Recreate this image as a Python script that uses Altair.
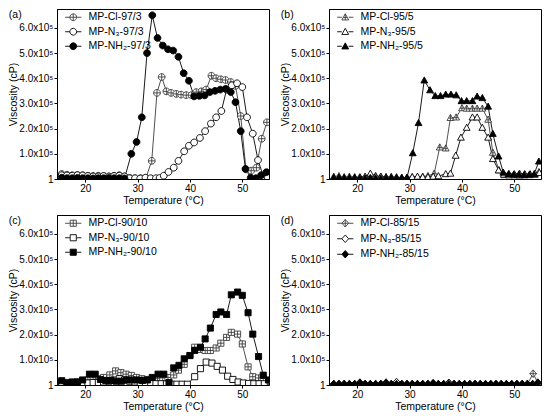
import altair as alt
import pandas as pd

FONT = "Liberation Sans, Arial, sans-serif"

# ---------------- Panel (a) 97/3 ----------------
A_NAMES = ["MP-Cl-97/3", "MP-N\u2083-97/3", "MP-NH\u2082-97/3"]
A_T_CL = [15.5, 16.5, 17.5, 18.5, 19.5, 20.5, 21.5, 22.5, 23.5, 24.5, 25.5, 26.5, 27.5, 28.5, 29.5,
          30.6, 31.6, 32.7, 33.7, 34.6, 35.5, 36.4, 37.4, 38.3, 39.3, 40.3, 41.2, 42.2, 43.1, 44.1,
          45.0, 45.9, 46.8, 47.8, 48.7, 49.7, 50.7, 51.7, 52.7, 53.7, 54.7]
A_V_CL = [0.2, 0.17, 0.15, 0.16, 0.15, 0.13, 0.12, 0.13, 0.12, 0.1, 0.13, 0.15, 0.1, 0.04, 0.03,
          0.03, 0.05, 0.72, 3.42, 4.05, 3.48, 3.42, 3.38, 3.35, 3.33, 3.33, 3.45, 3.48, 3.55, 4.1,
          4.0, 3.96, 3.93, 3.85, 3.7, 2.5, 0.38, 0.33, 0.45, 1.6, 2.25]
A_T_N3 = [15.5, 16.5, 17.5, 18.5, 19.5, 20.5, 21.5, 22.5, 23.5, 24.5, 25.5, 26.5, 27.5, 28.5, 29.5,
          30.5, 31.5, 32.5, 33.5, 34.2, 35.0, 35.9, 36.9, 37.8, 38.9, 39.8, 40.8, 41.9, 42.9, 44.0,
          45.0, 46.0, 47.0, 48.0, 49.0, 50.0, 50.9, 52.0, 53.0, 54.0, 54.9]
A_V_N3 = [0.15, 0.14, 0.13, 0.15, 0.14, 0.12, 0.1, 0.1, 0.12, 0.1, 0.12, 0.13, 0.1, 0.03, 0.03,
          0.02, 0.05, 0.03, 0.03, 0.04, 0.13, 0.28, 0.45, 0.72, 1.1, 1.32, 1.45, 1.63, 1.9, 2.2,
          2.45, 2.7, 3.55, 3.72, 3.8, 3.65, 2.45, 1.8, 0.75, 0.12, 0.05]
A_T_NH = [15.5, 16.5, 17.5, 18.5, 19.5, 20.5, 21.5, 22.5, 23.5, 24.5, 25.5, 26.5, 27.5,
          28.8, 29.8, 30.8, 31.8, 32.8, 33.8, 34.8, 35.8, 36.8, 37.8, 38.8, 39.8, 40.8, 41.8, 42.8,
          43.8, 44.8, 45.8, 46.8, 47.8, 48.7, 49.7, 50.6, 51.6, 52.6, 53.6, 54.6]
A_V_NH = [0.05, 0.03, 0.03, 0.04, 0.03, 0.03, 0.02, 0.03, 0.03, 0.04, 0.03, 0.03, 0.02,
          1.0, 1.47, 2.45, 5.0, 6.5, 5.6, 5.3, 5.15, 5.1, 4.85, 4.2, 3.9, 3.28, 3.3, 3.32,
          3.45, 3.5, 3.55, 3.58, 3.45, 3.05, 1.9, 0.4, 0.05, 0.03, 0.15, 0.27]

# ---------------- Panel (b) 95/5 ----------------
B_NAMES = ["MP-Cl-95/5", "MP-N\u2083-95/5", "MP-NH\u2082-95/5"]
B_T_CL = [15.5, 16.5, 17.5, 18.5, 19.5, 20.5, 21.5, 22.5, 23.5, 24.5, 25.5, 26.5, 27.5, 28.5, 29.5,
          30.5, 31.5, 32.5, 33.5, 34.7, 35.75, 36.9, 37.8, 38.9, 40.0, 40.9, 42.0, 42.9, 43.9, 45.0,
          45.9, 47.1, 48.1, 49.0, 50.0, 51.0, 52.0, 53.0, 53.9, 54.7]
B_V_CL = [0.1, 0.12, 0.08, 0.1, 0.08, 0.06, 0.08, 0.1, 0.12, 0.1, 0.08, 0.1, 0.08, 0.06, 0.06,
          0.08, 0.08, 0.1, 0.12, 0.22, 1.26, 1.22, 2.43, 2.45, 2.82, 2.8, 2.8, 2.8, 2.8, 2.36,
          1.05, 0.35, 0.16, 0.15, 0.15, 0.14, 0.15, 0.16, 0.17, 0.28]
B_T_N3 = [15.5, 16.5, 17.5, 18.5, 19.5, 20.5, 21.5, 22.5, 23.5, 24.5, 25.5, 26.5, 27.5, 28.5, 29.5,
          30.5, 31.5, 32.5, 33.5, 34.5, 35.5, 36.9, 37.8, 38.8, 39.8, 40.9, 42.0, 42.9, 43.9, 45.0,
          45.9, 47.0, 48.0, 49.0, 50.0, 51.0, 52.0, 53.0, 54.0, 54.8]
B_V_N3 = [0.05, 0.05, 0.06, 0.05, 0.06, 0.08, 0.1, 0.22, 0.12, 0.1, 0.08, 0.06, 0.06, 0.05, 0.06,
          0.08, 0.1, 0.08, 0.08, 0.1, 0.12, 0.2, 0.22, 0.93, 1.65, 2.04, 2.45, 2.45, 2.04, 1.65,
          0.8, 0.35, 0.18, 0.2, 0.2, 0.22, 0.2, 0.2, 0.22, 0.25]
B_T_NH = [15.5, 16.5, 17.5, 18.5, 19.5, 20.5, 21.5, 22.5, 23.5, 24.5, 25.5, 26.5, 27.5, 28.5, 29.5,
          30.6, 31.7, 32.8, 33.9, 34.9, 35.9, 36.9, 37.9, 38.9, 39.9, 40.9, 42.0, 42.9, 43.9, 45.0,
          45.9, 47.0, 47.9, 48.9, 49.9, 50.9, 51.9, 52.9, 53.8, 54.7]
B_V_NH = [0.05, 0.06, 0.03, 0.03, 0.04, 0.03, 0.03, 0.05, 0.04, 0.03, 0.03, 0.04, 0.03, 0.04, 0.05,
          1.03, 2.23, 3.92, 3.53, 3.3, 3.3, 3.36, 3.36, 3.33, 3.1, 3.1, 3.1, 3.28, 3.22, 2.88,
          1.8, 0.9, 0.26, 0.2, 0.18, 0.18, 0.17, 0.18, 0.2, 0.7]

# ---------------- Panel (c) 90/10 ----------------
C_NAMES = ["MP-Cl-90/10", "MP-N\u2083-90/10", "MP-NH\u2082-90/10"]
C_T_CL = [15.5, 16.5, 17.5, 18.5, 19.5, 20.5, 21.5, 22.5, 23.5, 24.7, 25.8, 26.8, 27.8, 28.8,
          29.8, 30.8, 31.8, 32.8, 33.8, 34.8, 35.8, 36.9, 37.8, 38.9, 40.0, 40.9, 42.0, 42.9,
          43.9, 45.0, 45.9, 47.0, 47.9, 49.1, 50.0, 51.1, 52.0, 53.1, 54.0, 55.0]
C_V_CL = [0.12, 0.1, 0.1, 0.12, 0.15, 0.2, 0.22, 0.25, 0.3, 0.4, 0.56, 0.49, 0.43, 0.38,
          0.3, 0.25, 0.22, 0.22, 0.25, 0.28, 0.3, 0.4, 0.59, 0.82, 1.17, 1.5, 1.41, 1.37,
          1.37, 1.47, 1.66, 1.89, 2.09, 2.02, 1.63, 0.72, 0.33, 0.28, 0.26, 0.1]
C_T_N3 = [15.5, 16.5, 17.5, 18.5, 19.5, 20.5, 21.5, 22.5, 23.5, 24.5, 25.5, 26.5, 27.5, 28.5,
          29.5, 30.5, 31.5, 32.5, 33.5, 34.5, 35.5, 36.5, 37.5, 38.5, 39.5, 40.9, 42.0, 43.1,
          44.2, 45.2, 46.2, 47.2, 48.2, 49.2, 50.2, 51.2, 52.2, 53.2, 54.2]
C_V_N3 = [0.08, 0.06, 0.05, 0.06, 0.08, 0.08, 0.1, 0.1, 0.12, 0.15, 0.2, 0.25, 0.2, 0.15,
          0.12, 0.1, 0.08, 0.06, 0.05, 0.05, 0.04, 0.03, 0.03, 0.03, 0.03, 0.33, 0.65, 0.91,
          0.87, 0.74, 0.59, 0.35, 0.22, 0.12, 0.08, 0.06, 0.05, 0.05, 0.05]
C_T_NH = [15.5, 16.5, 17.5, 18.5, 19.5, 20.8, 21.9, 22.9, 23.9, 24.9, 25.9, 26.9, 27.9, 28.9,
          29.9, 30.9, 31.9, 32.8, 33.9, 35.0, 36.0, 36.9, 37.9, 38.9, 40.0, 40.9, 42.0, 42.9,
          43.9, 45.0, 45.9, 47.0, 47.9, 49.1, 50.0, 51.1, 52.0, 53.1, 54.0, 55.0]
C_V_NH = [0.17, 0.08, 0.12, 0.12, 0.2, 0.43, 0.43, 0.22, 0.18, 0.18, 0.15, 0.15, 0.2, 0.2,
          0.2, 0.18, 0.2, 0.3, 0.43, 0.43, 0.1, 0.68, 0.78, 1.04, 1.17, 1.37, 1.5, 1.83,
          2.26, 2.8, 2.9, 2.8, 3.58, 3.69, 3.56, 2.87, 2.02, 1.13, 0.39, 0.2]

# ---------------- Panel (d) 85/15 ----------------
D_NAMES = ["MP-Cl-85/15", "MP-N\u2083-85/15", "MP-NH\u2082-85/15"]
D_T_CL = [15.5, 16.5, 17.5, 18.5, 19.5, 20.5, 21.5, 22.5, 23.5, 24.5, 25.5, 26.5, 27.5, 28.5,
          29.5, 30.5, 31.5, 32.5, 33.5, 34.5, 35.5, 36.5, 37.5, 38.5, 39.5, 40.5, 41.5, 42.5,
          43.5, 44.5, 45.5, 46.5, 47.5, 48.5, 49.5, 50.5, 51.5, 52.5, 53.6, 54.6]
D_V_CL = [0.03, 0.03, 0.03, 0.03, 0.03, 0.04, 0.03, 0.03, 0.03, 0.03, 0.04, 0.03, 0.08, 0.03,
          0.03, 0.03, 0.03, 0.03, 0.03, 0.04, 0.03, 0.03, 0.08, 0.03, 0.03, 0.03, 0.03, 0.03,
          0.03, 0.03, 0.03, 0.03, 0.03, 0.03, 0.03, 0.03, 0.03, 0.04, 0.45, 0.05]
D_T_N3 = [15.5, 16.5, 17.5, 18.5, 19.5, 20.5, 21.5, 22.5, 23.5, 24.5, 25.5, 26.5, 27.5, 28.5,
          29.5, 30.5, 31.5, 32.5, 33.5, 34.5, 35.5, 36.5, 37.5, 38.5, 39.5, 40.5, 41.5, 42.5,
          43.5, 44.5, 45.5, 46.5, 47.5, 48.5, 49.5, 50.5, 51.5, 52.5, 53.5, 54.5]
D_V_N3 = [0.03, 0.03, 0.03, 0.03, 0.03, 0.03, 0.04, 0.03, 0.03, 0.03, 0.03, 0.03, 0.12, 0.04,
          0.03, 0.03, 0.03, 0.03, 0.03, 0.03, 0.03, 0.03, 0.09, 0.03, 0.03, 0.03, 0.03, 0.03,
          0.03, 0.03, 0.03, 0.03, 0.03, 0.03, 0.03, 0.03, 0.03, 0.03, 0.03, 0.04]
D_T_NH = [15.5, 16.5, 17.5, 18.5, 19.5, 20.5, 21.5, 22.5, 23.5, 24.5, 25.5, 26.5, 27.5, 28.5,
          29.5, 30.5, 31.5, 32.5, 33.5, 34.5, 35.5, 36.5, 37.5, 38.5, 39.5, 40.5, 41.5, 42.5,
          43.5, 44.5, 45.5, 46.5, 47.5, 48.5, 49.5, 50.5, 51.5, 52.5, 53.5, 54.5]
D_V_NH = [0.04, 0.04, 0.04, 0.04, 0.04, 0.1, 0.04, 0.04, 0.04, 0.04, 0.1, 0.04, 0.04, 0.04,
          0.04, 0.04, 0.04, 0.04, 0.04, 0.08, 0.04, 0.04, 0.04, 0.04, 0.04, 0.04, 0.04, 0.04,
          0.04, 0.04, 0.04, 0.04, 0.04, 0.04, 0.04, 0.04, 0.04, 0.04, 0.04, 0.1]

Y_TICKS = [0, 1, 2, 3, 4, 5, 6]
X_TICKS = [20, 30, 40, 50]

# symbol shapes (custom paths in [-1,1] space)
CIRCLE = "M-1,0A1,1,0,1,1,1,0A1,1,0,1,1,-1,0Z"
TRI = "M0,-1L1,0.8L-1,0.8Z"
SQUARE = "M-0.9,-0.9L0.9,-0.9L0.9,0.9L-0.9,0.9Z"
DIAMOND = "M0,-1.1L1,0L0,1.1L-1,0Z"
CROSS_CIRCLE = CIRCLE + "M-1,0L1,0M0,-1L0,1"
CROSS_TRI = TRI + "M0,-1L0,0.8M-0.55,0.1L0.55,0.1"
CROSS_SQUARE = SQUARE + "M-0.9,0L0.9,0M0,-0.9L0,0.9"
CROSS_DIAMOND = DIAMOND + "M0,-1.1L0,1.1M-1,0L1,0"
LEG_LINE = "M-2.4,0L-1,0M1,0L2.4,0"

W, H = 212, 170
CL_GRAY = "#3c3c3c"
STROKES = [CL_GRAY, "#000000", "#000000"]
FILLS = ["#ffffff", "#ffffff", "#000000"]


def panel(label, names, shapes, series):
    rows = []
    for name, (ts, vs) in zip(names, series):
        for t, v in zip(ts, vs):
            rows.append({"T": t, "V": v, "S": name})
    df = pd.DataFrame(rows)
    leg = alt.Legend(title=None, orient="none", legendX=11, legendY=3, labelFont=FONT,
                     labelFontSize=10.5, symbolSize=46, symbolStrokeWidth=0.9,
                     rowPadding=3.5, labelOffset=10, padding=0, labelColor="black")
    x = alt.X("T:Q", scale=alt.Scale(domain=[14.6, 55.1], nice=False, zero=False),
              axis=alt.Axis(values=X_TICKS, title="Temperature (\u00b0C)", titlePadding=2))
    y = alt.Y("V:Q", scale=alt.Scale(domain=[0, 6.75], nice=False),
              axis=alt.Axis(values=Y_TICKS, title="Viscosity (cP)", titlePadding=0,
                            labelExpr="datum.value == 0 ? '1' : format(datum.value, '.1f') + 'x10\u2075'"))
    base = alt.Chart(df).encode(x=x, y=y)
    lines = base.mark_line(strokeWidth=0.9, clip=True).encode(
        detail="S:N", order="T:Q",
        stroke=alt.condition(alt.datum.S == names[0], alt.value(CL_GRAY), alt.value("#000000")),
    )
    pts = base.mark_point(size=46, strokeWidth=0.9, opacity=1, clip=True).encode(
        shape=alt.Shape("S:N", scale=alt.Scale(domain=names, range=shapes), legend=None),
        stroke=alt.Stroke("S:N", scale=alt.Scale(domain=names, range=STROKES), legend=None),
        fill=alt.Fill("S:N", scale=alt.Scale(domain=names, range=FILLS), legend=None),
    )
    # legend-only layer: no marks drawn, its scales drive a legend whose symbols carry a line segment
    legend_layer = base.transform_filter("datum.T < 0").mark_point(
        size=46, strokeWidth=0.9, opacity=1
    ).encode(
        shape=alt.Shape("S:N", scale=alt.Scale(domain=names, range=[LEG_LINE + s for s in shapes]),
                        legend=leg),
        stroke=alt.Stroke("S:N", scale=alt.Scale(domain=names, range=STROKES), legend=leg),
        fill=alt.Fill("S:N", scale=alt.Scale(domain=names, range=FILLS), legend=leg),
    )
    return alt.layer(lines, pts, legend_layer).resolve_scale(
        shape="independent", stroke="independent", fill="independent"
    ).properties(
        width=W, height=H,
        title=alt.TitleParams(label, anchor="start", frame="bounds", offset=-11, fontSize=10.5,
                              fontWeight="normal", font=FONT, color="black"),
    )


pa = panel("(a)", A_NAMES, [CROSS_CIRCLE, CIRCLE, CIRCLE],
           [(A_T_CL, A_V_CL), (A_T_N3, A_V_N3), (A_T_NH, A_V_NH)])
pb = panel("(b)", B_NAMES, [CROSS_TRI, TRI, TRI],
           [(B_T_CL, B_V_CL), (B_T_N3, B_V_N3), (B_T_NH, B_V_NH)])
pc = panel("(c)", C_NAMES, [CROSS_SQUARE, SQUARE, SQUARE],
           [(C_T_CL, C_V_CL), (C_T_N3, C_V_N3), (C_T_NH, C_V_NH)])
pd_ = panel("(d)", D_NAMES, [CROSS_DIAMOND, DIAMOND, DIAMOND],
            [(D_T_CL, D_V_CL), (D_T_N3, D_V_N3), (D_T_NH, D_V_NH)])

ind = dict(shape="independent", fill="independent", stroke="independent")
row1 = alt.hconcat(pa, pb, spacing=10).resolve_scale(**ind).resolve_legend(**ind)
row2 = alt.hconcat(pc, pd_, spacing=10).resolve_scale(**ind).resolve_legend(**ind)

chart = alt.vconcat(row1, row2, spacing=8).resolve_scale(**ind).resolve_legend(**ind).properties(
    padding=0, background="white"
).configure_view(
    stroke="black", strokeWidth=1
).configure_axis(
    grid=False, domainColor="black", tickColor="black", labelColor="black", titleColor="black",
    labelFont=FONT, titleFont=FONT, labelFontSize=10, titleFontSize=10.5, titleFontWeight="normal",
    tickSize=3, labelPadding=1, domainWidth=1, tickWidth=1
)

chart.save("out.html", embed_options={"renderer": "svg", "actions": False})
